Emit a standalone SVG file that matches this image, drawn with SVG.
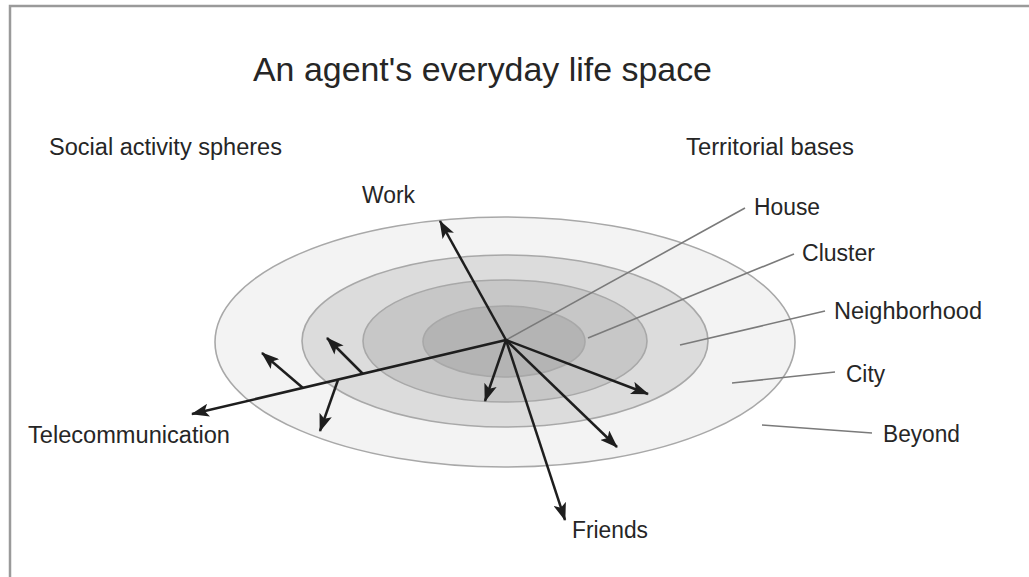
<svg xmlns="http://www.w3.org/2000/svg" width="1029" height="577" viewBox="0 0 1029 577">
<defs>
<marker id="ah" viewBox="0 0 18 13" refX="17" refY="6.5" markerWidth="18" markerHeight="13" markerUnits="userSpaceOnUse" orient="auto">
<path d="M0,0 L18,6.5 L0,13 L4,6.5 Z" fill="#1e1e1e"/>
</marker>
<style>
text{font-family:"Liberation Sans",Arial,sans-serif;fill:#262626;font-size:23px}
.title{font-size:33px}
.arr{stroke:#1e1e1e;stroke-width:2.5;fill:none;marker-end:url(#ah)}
.lead{stroke:#7a7a7a;stroke-width:1.6;fill:none}
.ring{stroke:#a8a8a8;stroke-width:1.6}
</style>
</defs>
<rect width="1029" height="577" fill="#ffffff"/>
<path d="M10,577 V6 H1029" fill="none" stroke="#9a9a9a" stroke-width="2.5"/>
<text class="title" x="253" y="81" textLength="459" lengthAdjust="spacingAndGlyphs">An agent's everyday life space</text>
<text x="49" y="155" textLength="233" lengthAdjust="spacingAndGlyphs">Social activity spheres</text>
<text x="686" y="155" textLength="168" lengthAdjust="spacingAndGlyphs">Territorial bases</text>
<g id="beyond"><ellipse class="ring" cx="505" cy="342" rx="290" ry="125" fill="#f3f3f3"/></g>
<g id="city"><ellipse class="ring" cx="505" cy="341" rx="203" ry="86" fill="#dcdcdc"/></g>
<g id="neighborhood"><ellipse class="ring" cx="505" cy="341" rx="142" ry="61" fill="#c7c7c7"/></g>
<g id="cluster"><ellipse class="ring" cx="504" cy="341.5" rx="81" ry="35.5" fill="#b4b4b4"/></g>
<g id="connectors">
<line class="lead" x1="506" y1="340" x2="745" y2="208"/>
<line class="lead" x1="588" y1="338" x2="794" y2="254"/>
<line class="lead" x1="680" y1="345" x2="825" y2="311"/>
<line class="lead" x1="732" y1="383" x2="835" y2="372"/>
<line class="lead" x1="762" y1="425" x2="872" y2="433"/>
<line class="arr" x1="506" y1="340" x2="440" y2="221"/>
<line class="arr" x1="506" y1="340" x2="192" y2="414"/>
<line class="arr" x1="303" y1="388" x2="262" y2="353"/>
<line class="arr" x1="363" y1="374" x2="327" y2="338"/>
<line class="arr" x1="338" y1="380" x2="320" y2="431"/>
<line class="arr" x1="506" y1="340" x2="485" y2="401"/>
<line class="arr" x1="506" y1="340" x2="565" y2="520"/>
<line class="arr" x1="506" y1="340" x2="648" y2="394"/>
<line class="arr" x1="506" y1="340" x2="617" y2="447"/>
</g>
<g id="work"><text x="362" y="203" textLength="53" lengthAdjust="spacingAndGlyphs">Work</text></g>
<g id="telecommunication"><text x="28" y="443" textLength="202" lengthAdjust="spacingAndGlyphs">Telecommunication</text></g>
<g id="friends"><text x="572" y="538" textLength="76" lengthAdjust="spacingAndGlyphs">Friends</text></g>
<g id="house"><text x="754" y="215" textLength="66" lengthAdjust="spacingAndGlyphs">House</text></g>
<g id="cluster-label"><text x="802" y="261" textLength="73" lengthAdjust="spacingAndGlyphs">Cluster</text></g>
<g id="neighborhood-label"><text x="834" y="319" textLength="148" lengthAdjust="spacingAndGlyphs">Neighborhood</text></g>
<g id="city-label"><text x="846" y="382" textLength="39" lengthAdjust="spacingAndGlyphs">City</text></g>
<g id="beyond-label"><text x="883" y="442" textLength="77" lengthAdjust="spacingAndGlyphs">Beyond</text></g>
</svg>
